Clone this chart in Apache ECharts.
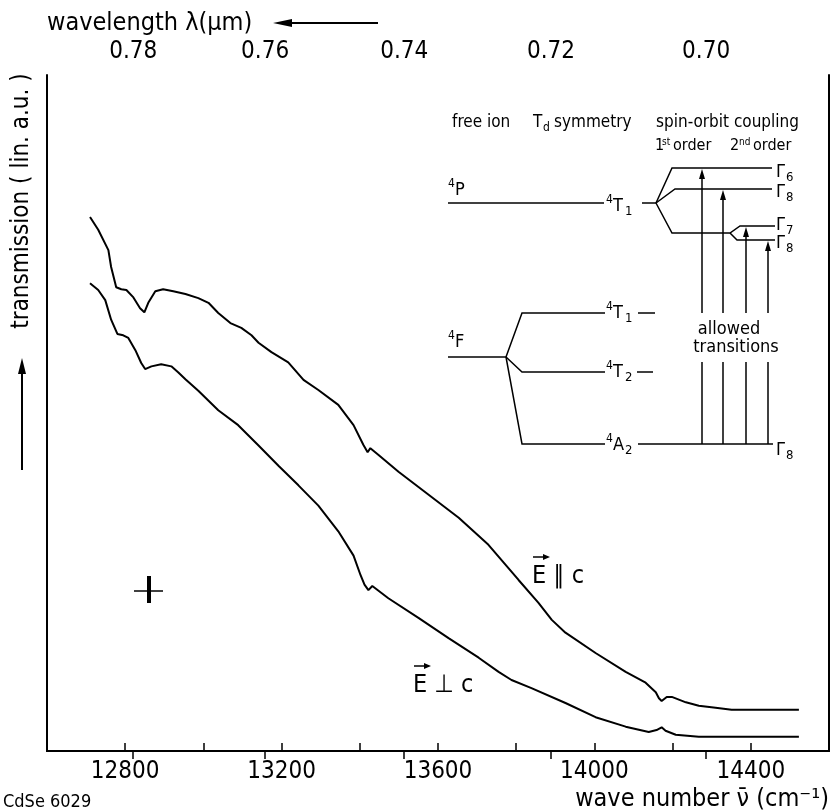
<!DOCTYPE html>
<html>
<head>
<meta charset="utf-8">
<script src="https://cdn.jsdelivr.net/npm/echarts@6/dist/echarts.min.js"></script>
<style>html,body{margin:0;background:#fff}#chart{width:834px;height:811px}</style>
</head>
<body>
<div id="chart"></div>
<script>
const FONT = '"DejaVu Sans Condensed","DejaVu Sans",sans-serif';

// E || c  (wave number cm-1, transmission a.u.)
const parNu = [12710,12731,12757,12764,12777,12790,12803,12821,12838,12849,12859,12877,12897,12923,12954,12987,13013,13038,13069,13097,13123,13141,13174,13217,13256,13294,13345,13384,13409,13420,13427,13448,13499,13576,13653,13729,13806,13857,13891,13926,14003,14080,14131,14157,14165,14172,14185,14198,14234,14267,14310,14351,14438,14523];
const parT = [7.90,7.71,7.41,7.16,6.86,6.83,6.82,6.71,6.55,6.49,6.63,6.80,6.83,6.80,6.76,6.70,6.63,6.48,6.33,6.26,6.15,6.04,5.90,5.75,5.49,5.34,5.12,4.82,4.53,4.42,4.48,4.38,4.13,3.79,3.45,3.05,2.53,2.19,1.94,1.75,1.45,1.17,1.01,0.87,0.78,0.74,0.80,0.80,0.72,0.67,0.64,0.61,0.61,0.61];

// E ⊥ c
const perpNu = [12710,12731,12749,12764,12780,12795,12808,12826,12841,12851,12867,12892,12918,12936,12954,12987,13038,13089,13141,13192,13243,13294,13345,13384,13402,13412,13422,13432,13473,13550,13627,13704,13755,13788,13839,13926,14003,14080,14139,14159,14172,14182,14208,14267,14351,14438,14523];
const perpT = [6.92,6.82,6.67,6.38,6.17,6.15,6.11,5.93,5.74,5.65,5.69,5.72,5.69,5.60,5.50,5.33,5.04,4.82,4.52,4.22,3.93,3.63,3.25,2.89,2.60,2.46,2.38,2.44,2.26,1.97,1.67,1.38,1.17,1.05,0.93,0.71,0.50,0.36,0.28,0.31,0.35,0.30,0.24,0.21,0.21,0.21,0.21];

const nuLabels = [12800, 13200, 13600, 14000, 14400];
const lambdaTicks = [0.78, 0.76, 0.74, 0.72, 0.70];

function txt(x, y, s, size, align, extra) {
  return Object.assign({
    type: 'text', x: x, y: y, silent: true,
    style: { text: s, fill: '#000', font: size + 'px ' + FONT, textAlign: align || 'left', textVerticalAlign: 'middle' }
  }, extra || {});
}
function line(pts, w) {
  return { type: 'polyline', silent: true, shape: { points: pts }, style: { stroke: '#000', lineWidth: w || 1.5, fill: null } };
}
function headUp(x, y) {
  return { type: 'polygon', silent: true, shape: { points: [[x, y], [x - 3, y + 10], [x + 3, y + 10]] }, style: { fill: '#000' } };
}
// level label with superscript 4, main letter and subscript
function lev(x, y, main, sub) {
  const out = [txt(x, y - 6, '4', 12), txt(x + 7, y, main, 18)];
  if (sub) out.push(txt(x + 19, y + 6, sub, 13));
  return out;
}
function gam(x, y, sub) {
  return [txt(x, y, 'Γ', 18), txt(x + 10, y + 6, sub, 13)];
}

const g = [];
// axis titles
g.push(txt(47, 23, 'wavelength λ(μm)', 25));
g.push(line([[290, 23], [378, 23]], 2));
g.push({ type: 'polygon', silent: true, shape: { points: [[273, 23], [292, 19], [292, 27]] }, style: { fill: '#000' } });
g.push(txt(829, 799, 'wave number ν̄ (cm⁻¹)', 25, 'right'));
g.push(txt(3, 802, 'CdSe 6029', 18));
g.push(txt(22, 201, 'transmission ( lin. a.u. )', 24, 'center', { rotation: Math.PI / 2 }));
g.push(line([[22, 470], [22, 372]], 2));
g.push({ type: 'polygon', silent: true, shape: { points: [[22, 358], [18, 374], [26, 374]] }, style: { fill: '#000' } });

// error cross
g.push(line([[134, 591], [163, 591]], 1.5));
g.push({ type: 'rect', silent: true, shape: { x: 147, y: 576, width: 4, height: 27 }, style: { fill: '#000' } });

// curve labels
g.push(txt(532, 576, 'E ∥ c', 25));
g.push(line([[533, 557], [547, 557]], 1.5));
g.push({ type: 'polygon', silent: true, shape: { points: [[550, 557], [543, 554], [543, 560]] }, style: { fill: '#000' } });
g.push(txt(413, 685, 'E ⊥ c', 25));
g.push(line([[414, 666], [428, 666]], 1.5));
g.push({ type: 'polygon', silent: true, shape: { points: [[431, 666], [424, 663], [424, 669]] }, style: { fill: '#000' } });

// level diagram
g.push(txt(452, 123, 'free ion', 17));
g.push(txt(533, 123, 'T', 17), txt(543, 128, 'd', 12), txt(554, 123, 'symmetry', 17));
g.push(txt(656, 123, 'spin-orbit coupling', 17));
g.push(txt(655, 146, '1', 16), txt(662, 142, 'st', 10), txt(673, 146, 'order', 16));
g.push(txt(730, 146, '2', 16), txt(739, 142, 'nd', 10), txt(753, 146, 'order', 16));
g.push(...lev(448, 190, 'P'));
g.push(...lev(448, 342, 'F'));
g.push(...lev(606, 206, 'T', '1'));
g.push(...lev(606, 313, 'T', '1'));
g.push(...lev(606, 372, 'T', '2'));
g.push(...lev(606, 445, 'A', '2'));
g.push(...gam(776, 172, '6'), ...gam(776, 192, '8'), ...gam(776, 225, '7'), ...gam(776, 243, '8'), ...gam(776, 450, '8'));
g.push(line([[448, 203], [604, 203]]), line([[642, 203], [656, 203]]));
g.push(line([[656, 203], [672, 168], [772, 168]]));
g.push(line([[656, 203], [675, 189], [772, 189]]));
g.push(line([[656, 203], [672, 233], [730, 233], [740, 226], [775, 226]]));
g.push(line([[730, 233], [737, 240], [775, 240]]));
g.push(line([[448, 357], [506, 357]]));
g.push(line([[506, 357], [522, 313], [605, 313]]), line([[638, 313], [655, 313]]));
g.push(line([[506, 357], [522, 372], [605, 372]]), line([[637, 372], [653, 372]]));
g.push(line([[506, 357], [522, 444], [605, 444]]), line([[638, 444], [773, 444]]));
[[702, 168], [723, 189], [746, 226], [768, 240]].forEach(function (a) {
  g.push(line([[a[0], 444], [a[0], 362]]), line([[a[0], 313], [a[0], a[1] + 8]]), headUp(a[0], a[1] + 1));
});
g.push(txt(729, 329, 'allowed', 18, 'center'), txt(736, 347, 'transitions', 18, 'center'));

const chart = echarts.init(document.getElementById('chart'), null, { renderer: 'canvas' });
chart.setOption({
  backgroundColor: '#fff',
  animation: false,
  grid: { left: 47, right: 5, top: 75, bottom: 60 },
  xAxis: [{
    type: 'value', position: 'bottom', min: 12600, max: 14600, interval: 200,
    axisLine: { lineStyle: { color: '#000', width: 2 } },
    axisTick: { inside: true, length: 8, lineStyle: { color: '#000', width: 1.5 } },
    axisLabel: { color: '#000', fontSize: 24, fontFamily: FONT, margin: 9,
      formatter: function (v) { return nuLabels.indexOf(v) >= 0 ? String(v) : ''; } },
    splitLine: { show: false }
  }, {
    type: 'value', position: 'top', min: 12600, max: 14600,
    axisLine: { lineStyle: { color: '#000', width: 2 } },
    axisTick: { inside: true, length: 8, customValues: lambdaTicks.map(function (l) { return 1e4 / l; }), lineStyle: { color: '#000', width: 1.5 } },
    axisLabel: { color: '#000', fontSize: 24, fontFamily: FONT, margin: 11,
      customValues: lambdaTicks.map(function (l) { return 1e4 / l; }),
      formatter: function (v) { return (1e4 / v).toFixed(2); } },
    splitLine: { show: false }
  }],
  yAxis: [{
    type: 'value', min: 0, max: 10, position: 'left',
    axisLine: { show: true, lineStyle: { color: '#000', width: 2 } },
    axisTick: { show: false }, axisLabel: { show: false }, splitLine: { show: false }
  }, {
    type: 'value', min: 0, max: 10, position: 'right',
    axisLine: { show: true, lineStyle: { color: '#000', width: 2 } },
    axisTick: { show: false }, axisLabel: { show: false }, splitLine: { show: false }
  }],
  series: [{
    name: 'E || c', type: 'line', showSymbol: false, symbol: 'none',
    data: parNu.map(function (v, i) { return [v, parT[i]]; }),
    lineStyle: { color: '#000', width: 2 }
  }, {
    name: 'E ⊥ c', type: 'line', showSymbol: false, symbol: 'none',
    data: perpNu.map(function (v, i) { return [v, perpT[i]]; }),
    lineStyle: { color: '#000', width: 2 }
  }],
  graphic: g
});
</script>
</body>
</html>
